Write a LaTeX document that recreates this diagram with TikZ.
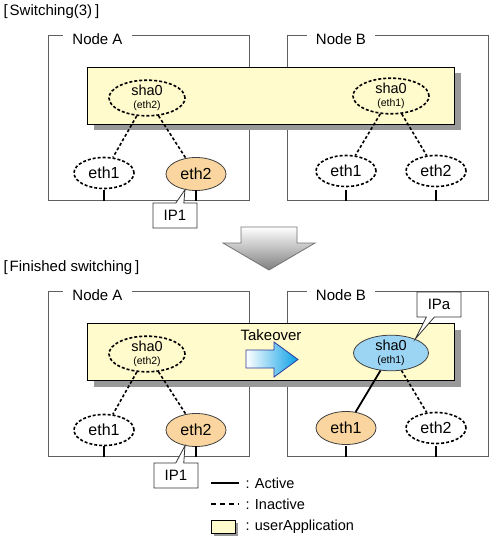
\documentclass[tikz,border=0pt]{standalone}
\usepackage{fontspec}
\setmainfont{Liberation Sans}
\usetikzlibrary{shapes.geometric,shapes.callouts,shadows}
\definecolor{appyellow}{HTML}{FFFBCC}
\definecolor{niccolor}{HTML}{FBD59F}
\definecolor{shacolor}{HTML}{9CD5F3}
\definecolor{boxgray}{HTML}{5F5F5F}
\definecolor{shadowgray}{HTML}{999999}
\definecolor{takeblue}{HTML}{0AA0E6}
\definecolor{takeedge}{HTML}{2D3A9A}
\newcommand{\nicsub}[1]{{\fontsize{10.5}{11}\selectfont(#1)}}
\begin{document}
\begin{tikzpicture}[x=1pt, y=-1pt]
\tikzstyle{every node} = [font=\fontsize{15}{18}\selectfont]
\tikzstyle{nodebox} = [draw=boxgray, line width=1.2pt, inner sep=0pt, anchor=north west, minimum width=201pt, minimum height=165pt]
\tikzstyle{nodelabel} = [fill=white, inner xsep=9pt, inner ysep=1pt]
\tikzstyle{userapp} = [draw=black, line width=1pt, fill=appyellow, inner sep=0pt, drop shadow={shadow xshift=6pt, shadow yshift=-6pt, opacity=1, fill=shadowgray}]
\tikzstyle{sha} = [ellipse, minimum width=76pt, minimum height=32pt, inner sep=0pt, align=center, font=\fontsize{14.5}{12.5}\selectfont]
\tikzstyle{nic} = [ellipse, minimum width=60pt, minimum height=31pt, inner sep=0pt, font=\fontsize{16}{18}\selectfont]
\tikzstyle{idle} = [draw, line width=1.6pt, dash pattern=on 3pt off 2pt]
\tikzstyle{up} = [draw=black!75, line width=0.8pt]
\tikzstyle{idleline} = [line width=1.6pt, dash pattern=on 3pt off 2.2pt]
\tikzstyle{activeline} = [line width=1.8pt]
\tikzstyle{tick} = [line width=1.6pt]
\tikzstyle{ipbox} = [rectangle callout, draw=black!80, fill=white, line width=0.8pt, minimum width=44pt, minimum height=25pt, inner sep=0pt, callout pointer width=8pt, font=\fontsize{15}{16}\selectfont]
\useasboundingbox (0,0) rectangle (490,537);

\node[anchor=west] (titleS) at (0,12) {[\hspace{2pt}Switching(3)\hspace{3pt}]};
\node[nodebox] (boxSA) at (48,35) {};
\node[nodebox] (boxSB) at (287,35) {};
\node[userapp, anchor=north west, minimum width=367pt, minimum height=57pt] (appS) at (87,67) {};
\node[nodelabel] (labSA) at (97.5,39) {Node A};
\node[nodelabel] (labSB) at (341,39) {Node B};
\node[sha, idle] (shaSA) at (147,98) {sha0\\\nicsub{eth2}};
\node[sha, idle] (shaSB) at (391,96) {sha0\\\nicsub{eth1}};
\node[nic, idle] (ethSA1) at (104,173) {eth1};
\node[nic, up, fill=niccolor, minimum height=33pt] (ethSA2) at (196,174) {eth2};
\node[nic, idle] (ethSB1) at (346,171) {eth1};
\node[nic, idle] (ethSB2) at (436,171) {eth2};
\foreach \from/\to in {shaSA/ethSA1, shaSA/ethSA2, shaSB/ethSB1, shaSB/ethSB2}
\draw[idleline] (\from) -- (\to);
\foreach \n in {ethSA1, ethSA2, ethSB1, ethSB2}
\draw[tick] (\n |- boxSA.south) -- ++(0,-11);
\node[ipbox, callout absolute pointer={(ethSA2.235)}] (ipS) at (175,215.5) {IP1};

\shade[top color=white, bottom color=black!50, draw=black!55, line width=0.8pt] (241,227) -- (297,227) -- (297,243) -- (315,243) -- (269,270) -- (223,243) -- (241,243) -- cycle;

\node[anchor=west] (titleF) at (0,268) {[\hspace{2pt}Finished switching\hspace{3pt}]};
\node[nodebox] (boxFA) at (48,291) {};
\node[nodebox] (boxFB) at (287,291) {};
\node[userapp, anchor=north west, minimum width=367pt, minimum height=57pt] (appF) at (87,323) {};
\node[nodelabel] (labFA) at (97.5,295) {Node A};
\node[nodelabel] (labFB) at (341,295) {Node B};
\node[sha, idle] (shaFA) at (147,354) {sha0\\\nicsub{eth2}};
\node[sha, up, fill=shacolor, minimum width=75pt, minimum height=30pt] (shaFB) at (391,353) {sha0\\\nicsub{eth1}};
\node[nic, idle] (ethFA1) at (104,430) {eth1};
\node[nic, up, fill=niccolor, minimum height=33pt] (ethFA2) at (196,430) {eth2};
\node[nic, up, fill=niccolor, minimum height=33pt] (ethFB1) at (346,428) {eth1};
\node[nic, idle] (ethFB2) at (436,428) {eth2};
\foreach \from/\to in {shaFA/ethFA1, shaFA/ethFA2, shaFB/ethFB2}
\draw[idleline] (\from) -- (\to);
\draw[activeline] (shaFB) -- (ethFB1);
\foreach \n in {ethFA1, ethFA2, ethFB1, ethFB2}
\draw[tick] (\n |- boxFA.south) -- ++(0,-11);
\node[ipbox, callout absolute pointer={(ethFA2.235)}] (ipF) at (176,475.5) {IP1};
\node[ipbox, callout absolute pointer={(shaFB.30)}] (ipa) at (439,304.5) {IPa};

\node (take) at (271,335) {Takeover};
\shade[left color=white, right color=takeblue, draw=takeedge, line width=0.8pt] (246,350) -- (274,350) -- (274,342) -- (298,359.5) -- (274,377) -- (274,368) -- (246,368) -- cycle;

\draw[activeline] (211,483) -- (239,483);
\draw[line width=1.6pt, dash pattern=on 5pt off 4pt] (211,504) -- (239,504);
\node[draw=black, line width=0.8pt, fill=appyellow, anchor=north west, minimum width=24pt, minimum height=13pt, inner sep=0pt, drop shadow={shadow xshift=2.5pt, shadow yshift=-2.5pt, opacity=1, fill=shadowgray}] (legApp) at (211,520) {};
\node[anchor=west, font=\fontsize{14.5}{16}\selectfont] (legAct) at (242,483) {: Active};
\node[anchor=west, font=\fontsize{14.5}{16}\selectfont] (legIdle) at (242,504) {: Inactive};
\node[anchor=west, font=\fontsize{14.5}{16}\selectfont] (legUser) at (242,527) {: userApplication};
\end{tikzpicture}
\end{document}
